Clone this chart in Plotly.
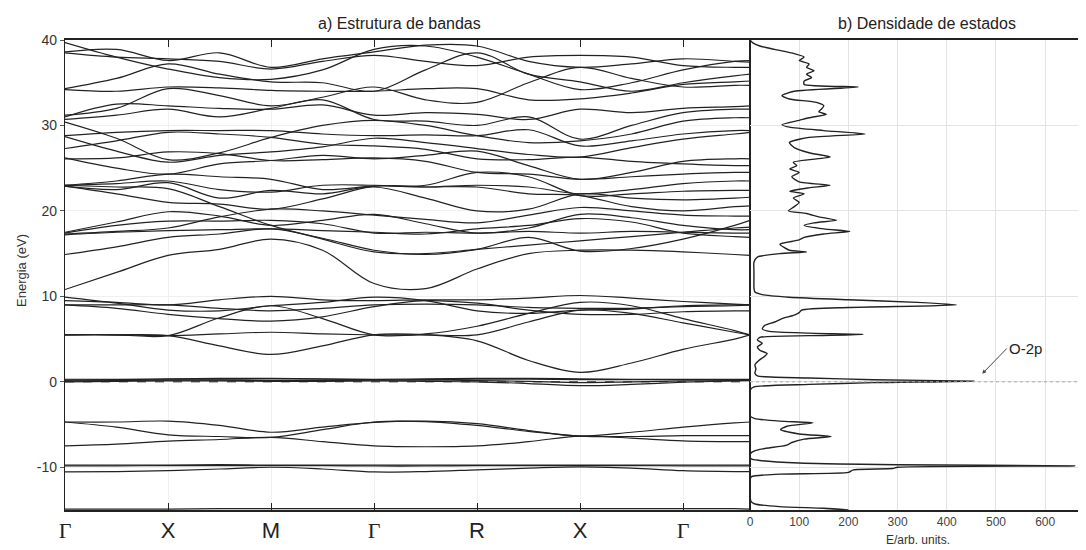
import plotly.graph_objects as go

# ---------------- data ----------------
kpos = [0, 0.5, 1, 1.5, 2, 2.5, 3, 3.5, 4, 4.5, 5, 5.5, 6, 6.5, 6.65]
kticks = [0, 1, 2, 3, 4, 5, 6]
klabels = ["Γ", "X", "M", "Γ", "R", "X", "Γ"]

bands = [
    [-14.9, -14.9, -14.9, -14.85, -14.85, -14.85, -14.85, -14.85, -14.85, -14.85, -14.85, -14.85, -14.85, -14.85, -14.9],
    [-10.55, -10.5, -10.4, -10.2, -10.0, -10.2, -10.55, -10.5, -10.3, -10.1, -9.95, -10.1, -10.4, -10.5, -10.5],
    [-9.85, -9.85, -9.8, -9.8, -9.8, -9.8, -9.85, -9.85, -9.8, -9.8, -9.8, -9.8, -9.85, -9.85, -9.85],
    [-9.75, -9.75, -9.75, -9.7, -9.75, -9.75, -9.75, -9.75, -9.75, -9.75, -9.75, -9.75, -9.75, -9.75, -9.75],
    [-7.5, -7.3, -6.95, -6.75, -6.5, -7.0, -7.5, -7.6, -7.5, -7.0, -6.35, -6.6, -6.9, -7.0, -7.0],
    [-4.7, -5.3, -6.2, -6.4, -6.5, -5.6, -4.7, -4.65, -5.1, -5.8, -6.35, -6.4, -6.3, -6.3, -6.3],
    [-4.7, -4.7, -4.6, -5.1, -5.9, -5.3, -4.75, -4.6, -4.9, -5.7, -6.35, -5.9, -5.3, -4.8, -4.7],
    [0.0, 0.05, 0.1, 0.1, 0.05, 0.05, 0.1, 0.05, 0.0, -0.2, -0.45, -0.3, -0.05, 0.1, 0.15],
    [0.1, 0.15, 0.2, 0.2, 0.15, 0.15, 0.2, 0.2, 0.15, 0.05, -0.1, 0.0, 0.1, 0.15, 0.2],
    [0.2, 0.25, 0.3, 0.3, 0.35, 0.3, 0.25, 0.25, 0.3, 0.3, 0.25, 0.25, 0.25, 0.25, 0.25],
    [0.3, 0.3, 0.35, 0.4, 0.4, 0.35, 0.3, 0.35, 0.4, 0.4, 0.35, 0.3, 0.3, 0.3, 0.3],
    [5.5, 5.5, 5.4, 4.2, 3.2, 4.2, 5.5, 5.5, 4.8, 2.5, 1.1, 2.2, 3.8, 5.0, 5.5],
    [5.5, 5.5, 5.4, 5.6, 5.8, 5.6, 5.5, 5.5, 5.5, 7.0, 8.4, 8.0, 6.9, 5.8, 5.5],
    [5.5, 5.5, 5.4, 7.5, 8.9, 7.4, 5.5, 5.6, 6.5, 8.0, 9.3, 8.9, 7.4, 6.0, 5.5],
    [9.0, 9.0, 9.0, 8.6, 8.3, 8.6, 9.0, 9.1, 9.0, 8.7, 8.6, 8.6, 8.8, 8.9, 9.0],
    [9.0, 8.6, 7.9, 7.4, 7.1, 7.6, 8.8, 9.5, 9.2, 8.4, 7.9, 7.9, 8.2, 8.3, 8.3],
    [9.5, 9.3, 9.0, 9.6, 10.0, 9.6, 9.5, 9.6, 9.6, 9.8, 10.1, 9.8, 9.4, 9.1, 9.0],
    [9.9, 9.2, 8.4, 8.3, 8.9, 9.3, 9.9, 9.5, 8.3, 8.0, 8.4, 8.5, 8.9, 9.0, 9.0],
    [10.8, 12.8, 14.8, 15.5, 16.7, 15.4, 11.5, 10.9, 13.2, 15.0, 15.4, 15.4, 15.2, 14.9, 14.8],
    [14.9, 15.8, 16.9, 17.3, 17.9, 16.8, 15.4, 14.9, 15.5, 16.9, 15.3, 15.6, 16.7, 18.3, 18.9],
    [17.2, 17.5, 17.7, 17.8, 17.9, 17.7, 17.5, 17.3, 17.9, 18.3, 19.1, 18.7, 17.4, 17.0, 16.9],
    [17.4, 18.3, 18.8, 18.8, 18.9, 18.5, 17.4, 17.5, 17.4, 17.6, 17.4, 17.6, 17.5, 17.4, 17.4],
    [17.5, 18.7, 19.9, 19.4, 18.3, 18.9, 19.6, 18.5, 17.4, 18.0, 19.6, 19.2, 18.3, 17.8, 17.8],
    [23.0, 22.8, 22.6, 20.5, 18.3, 16.7, 15.2, 15.0, 15.5, 16.0, 16.5, 17.0, 17.5, 18.0, 18.1],
    [17.3, 17.6, 18.0, 19.3, 20.2, 20.0, 19.5, 19.0, 18.6, 19.5, 20.4, 20.0, 19.5, 19.4, 19.4],
    [39.7, 38.0, 36.6, 35.6, 35.4, 36.5, 38.9, 39.3, 38.0, 36.0, 34.2, 35.0, 36.5, 37.5, 37.6],
    [38.6, 38.9, 37.6, 38.5, 36.8, 37.8, 38.6, 39.4, 39.3, 37.5, 36.8, 37.2, 37.8, 37.5, 37.4],
    [38.5, 38.0, 37.8, 37.5, 36.6, 37.5, 38.2, 37.5, 37.0, 38.0, 38.2, 38.0, 37.0, 36.8, 36.8],
    [34.3, 35.5, 37.2, 36.0, 35.1, 35.0, 34.0, 36.5, 38.5, 36.0, 35.1, 34.0, 35.0, 35.8, 36.0],
    [34.2, 34.0, 34.5, 34.4, 34.1, 34.0, 34.0, 34.3, 34.3, 33.0, 33.1, 33.8, 34.8, 35.1, 35.2],
    [31.2, 32.0, 34.3, 33.5, 32.3, 33.3, 34.5, 33.0, 32.7, 35.0, 36.8, 35.5, 34.5, 34.7, 34.7],
    [31.0, 32.5, 32.3, 32.0, 31.9, 32.4, 31.2, 31.5, 31.3, 30.7, 31.9, 31.5, 32.0, 32.2, 32.3],
    [30.7, 31.2, 31.9, 31.0, 32.0, 33.0, 30.7, 30.5, 30.0, 31.0, 28.4, 30.0, 31.5, 31.9, 31.9],
    [30.4, 28.5, 26.0, 26.8, 28.6, 30.0, 30.6, 30.0, 28.8, 28.0, 28.2, 29.0, 30.5, 30.9, 30.9],
    [28.8, 29.2, 29.4, 29.4, 29.4, 29.0, 28.8, 28.9, 28.8, 29.5, 27.6, 28.2, 29.0, 29.4, 29.4],
    [28.7, 27.0, 25.7, 26.5, 26.9, 27.5, 28.5, 28.0, 27.3, 26.6, 26.3, 27.4, 28.4, 29.0, 29.2],
    [27.3, 28.2, 29.2, 29.0, 28.6, 27.8, 27.6, 27.2, 26.1, 26.0, 26.3, 25.8, 25.5, 25.3, 25.3],
    [26.2, 25.0, 24.3, 25.5, 25.9, 26.5, 26.1, 26.5, 27.0, 25.3, 23.7, 24.5, 25.8, 26.1, 26.1],
    [26.1, 26.2, 26.9, 26.7, 25.9, 26.0, 26.2, 25.8, 24.5, 24.3, 23.7, 24.0, 24.3, 24.5, 24.5],
    [23.0, 23.2, 23.5, 22.5, 22.2, 23.0, 23.0, 22.8, 23.0, 22.8, 22.0, 22.5, 23.2, 23.5, 23.5],
    [22.9, 22.0, 21.0, 20.8, 20.2, 21.4, 22.9, 22.8, 22.8, 22.0, 21.8, 20.5, 20.0, 20.5, 20.6],
    [23.0, 23.5, 24.3, 24.0, 23.7, 22.5, 22.9, 23.0, 24.5, 24.0, 21.8, 22.0, 22.3, 22.4, 22.4],
    [22.9, 22.5, 23.3, 21.5, 22.4, 22.0, 22.8, 21.5, 20.0, 20.2, 22.0, 21.5, 21.3, 21.5, 21.6],
]

dos_E = [-15.0, -14.8, -14.6, -14.3, -14.0, -11.5, -11.1, -10.8, -10.6, -10.3, -10.15, -10.0, -9.85, -9.7,
         -9.5, -9.2, -9.0, -8.5, -8.2, -7.9, -7.4, -7.1, -6.7, -6.4, -6.1, -5.6, -5.2, -4.8, -4.6, -4.3,
         -4.0, -1.0, -0.6, -0.3, -0.1, 0.08, 0.25, 0.45, 0.7, 1.0, 1.5, 2.0, 2.5, 3.0, 3.3, 3.7, 4.1, 4.5,
         4.9, 5.2, 5.4, 5.55, 5.7, 5.9, 6.2, 6.6, 7.0, 7.4, 7.8, 8.1, 8.4, 8.7, 9.0, 9.3, 9.6, 9.9, 10.2,
         10.5, 11.0, 12.0, 13.0, 14.0, 14.6, 15.0, 15.2, 15.4, 15.7, 16.1, 16.6, 16.9, 17.3, 17.6, 17.9,
         18.3, 18.6, 18.9, 19.3, 19.7, 20.0, 20.5, 21.0, 21.5, 22.0, 22.3, 22.7, 23.0, 23.4, 24.0, 24.5,
         24.9, 25.3, 25.7, 26.3, 26.8, 27.4, 28.0, 28.6, 29.0, 29.4, 29.8, 30.1, 30.6, 30.9, 31.3, 31.6,
         31.9, 32.3, 32.7, 33.1, 33.5, 34.0, 34.5, 34.8, 35.2, 35.6, 36.0, 36.4, 36.8, 37.2, 37.6, 38.0,
         38.4, 38.9, 39.3, 39.7, 40.0]
dos_V = [200, 150, 60, 10, 2, 0, 3, 60, 200, 210, 290, 300, 660, 300,
         100, 20, 2, 0, 5, 20, 75, 85, 110, 165, 100, 62, 75, 128, 60, 10,
         0, 0, 8, 120, 250, 455, 250, 120, 15, 10, 12, 10, 18, 30, 35, 20, 15, 25,
         15, 20, 120, 230, 120, 40, 25, 30, 50, 65, 90, 100, 105, 200, 420, 340, 200, 80, 25,
         10, 8, 8, 8, 8, 15, 60, 115, 80, 70, 61, 100, 110, 150, 203, 150,
         110, 130, 176, 140, 115, 78, 90, 100, 88, 110, 81, 120, 163, 100, 85, 100,
         81, 95, 88, 163, 120, 90, 80, 120, 234, 150, 80, 65, 100, 120, 155, 140,
         145, 150, 135, 80, 65, 90, 220, 110, 110, 125, 115, 130, 115, 120, 100, 110,
         90, 50, 20, 5, 0]

y_ticks = [-10, 0, 10, 20, 30, 40]
y_ticklabels = ["-10", "0", "10", "20", "30", "40"]
dos_ticks = [0, 100, 200, 300, 400, 500, 600]

# ---------------- figure ----------------
# the page body adds an 8 px offset; all layout numbers below are page pixels minus 8
OFF = 8
FW, FH = 1086 - OFF, 550 - OFF
L, T, B = 65 - OFF, 40 - OFF, 550 - 510
W = FW - L
H = FH - T - B

LINE = "#222222"
split = (750 - 65) / W
fig = go.Figure()

for b in bands:
    fig.add_trace(go.Scatter(x=kpos, y=b, mode="lines", xaxis="x", yaxis="y",
                             line=dict(color=LINE, width=1.2, shape="spline", smoothing=1.0),
                             hoverinfo="skip", showlegend=False))

fig.add_trace(go.Scatter(x=dos_V, y=dos_E, mode="lines", xaxis="x2", yaxis="y2",
                         line=dict(color=LINE, width=1.4, shape="spline", smoothing=0.6),
                         hoverinfo="skip", showlegend=False))

ticktext = []
for lab in klabels:
    if lab == "Γ":
        ticktext.append('<span style="font-family:Liberation Serif">Γ</span>')
    else:
        ticktext.append(lab)

fig.update_layout(
    width=FW, height=FH,
    margin=dict(l=L, r=0, t=T, b=B, pad=0),
    paper_bgcolor="white", plot_bgcolor="white",
    font=dict(family="Liberation Sans, Arial", color="#333333"),
    xaxis=dict(domain=[0, split], range=[0, 6.65], tickvals=kticks, ticktext=ticktext,
               tickfont=dict(size=22, color="#222222"), ticks="inside", ticklen=7,
               tickcolor="#222222", showline=True, linecolor="#222222", linewidth=1.5,
               mirror="ticks", showgrid=True, gridcolor="#f0f0f0", zeroline=False,
               automargin=False, ticklabelstandoff=0),
    yaxis=dict(range=[-15, 40], tickvals=y_ticks, ticktext=y_ticklabels,
               tickfont=dict(size=14, color="#333333"),
               ticks="outside", ticklen=4, tickcolor="#555555",
               showline=True, linecolor="#222222", linewidth=1.2, mirror=True,
               showgrid=True, gridcolor="#f0f0f0", zeroline=False, automargin=False),
    xaxis2=dict(domain=[split, 1], range=[0, 683], tickvals=dos_ticks, anchor="y2",
                tickfont=dict(size=12, color="#444444"), ticks="", showline=True,
                linecolor="#222222", linewidth=1.5, mirror=True, showgrid=True,
                gridcolor="#e3e3e3", zeroline=False, automargin=False),
    yaxis2=dict(range=[-15, 40], anchor="x2", matches="y", showticklabels=False, ticks="",
                tickvals=y_ticks, showline=True, linecolor="#222222", linewidth=1.2,
                showgrid=True, gridcolor="#e3e3e3", zeroline=False, automargin=False),
)

# Fermi level dashed lines
fig.add_shape(type="line", xref="x", yref="y", x0=0, x1=6.65, y0=0, y1=0,
              line=dict(color="#222222", width=1, dash="dash"))
fig.add_shape(type="line", xref="x2", yref="y2", x0=0, x1=683, y0=0, y1=0,
              line=dict(color="#aaaaaa", width=1, dash="dot"))


def px(xp):
    return (xp - 65) / W


def py(yp):
    return (510 - yp) / H


fig.add_annotation(text="a) Estrutura de bandas", xref="paper", yref="paper",
                   x=px(399), y=py(24), showarrow=False,
                   font=dict(size=16, color="#222222"), xanchor="center", yanchor="middle")
fig.add_annotation(text="b) Densidade de estados", xref="paper", yref="paper",
                   x=px(927), y=py(24), showarrow=False,
                   font=dict(size=16, color="#222222"), xanchor="center", yanchor="middle")
fig.add_annotation(text="Energia (eV)", xref="paper", yref="paper",
                   x=px(21), y=py(271), showarrow=False, textangle=-90,
                   font=dict(size=13, color="#333333"), xanchor="center", yanchor="middle")
fig.add_annotation(text="E/arb. units.", xref="paper", yref="paper",
                   x=px(918), y=py(540), showarrow=False,
                   font=dict(size=12, color="#333333"), xanchor="center", yanchor="middle")
fig.add_annotation(text="O-2p", xref="x2", yref="y2", x=472, y=0.94,
                   ax=522, ay=3.9, axref="x2", ayref="y2", showarrow=True,
                   arrowhead=2, arrowsize=0.8, arrowwidth=1, arrowcolor="#444444",
                   font=dict(size=15, color="#222222"), xanchor="left", yanchor="middle")

fig.write_html("out.html")
